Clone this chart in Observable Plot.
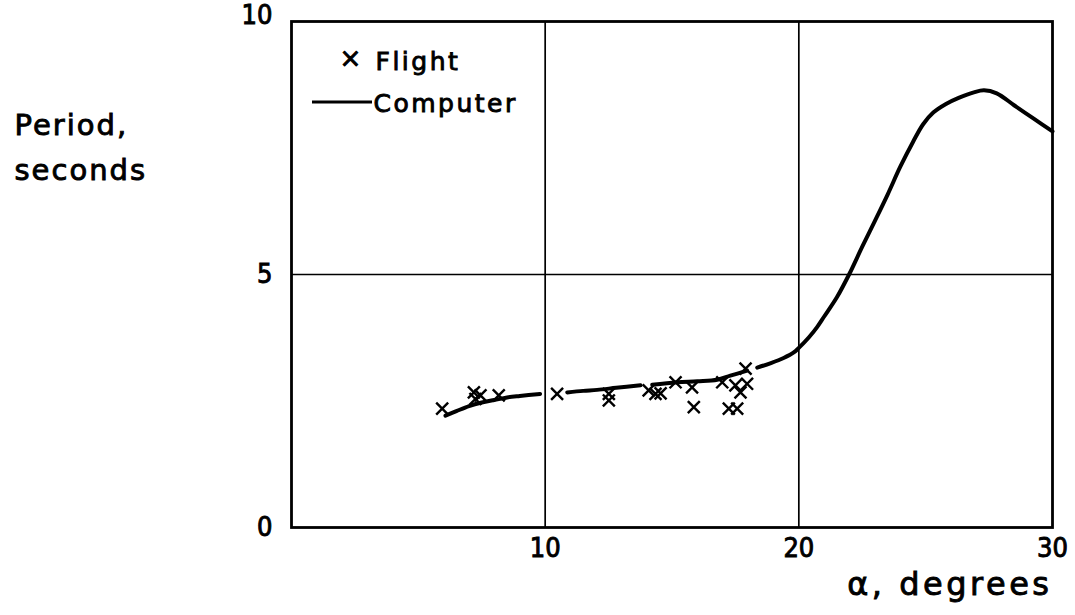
<!DOCTYPE html>
<html>
<head>
<meta charset="utf-8">
<script src="https://cdn.jsdelivr.net/npm/d3@7"></script>
<script src="https://cdn.jsdelivr.net/npm/@observablehq/plot@0.6"></script>
<style>
  html, body { margin: 0; padding: 0; background: #fff; }
  #chart svg { display: block; }
</style>
</head>
<body>
<div id="chart"></div>
<script>
// Computer curve (alpha in degrees, period in seconds); null marks a gap in the drawn line
const computerAlpha = [6.07, 6.5, 7.0, 7.5, 8.0, 8.5, 9.0, 9.8, 10.3,
  10.87, 11.5, 12.05, 12.8, 13.76, 14.0,
  14.22, 15.2, 16.0, 16.78, 17.3, 17.96, 18.15,
  18.36, 18.9, 19.4, 19.8, 20.0, 20.4, 20.72, 21.0, 21.5, 22.0, 22.5, 23.0, 23.5,
  24.0, 24.5, 24.9, 25.3, 25.8, 26.3, 26.9, 27.3, 27.8, 28.5, 29.26, 30.0];
const computerPeriod = [2.21, 2.30, 2.40, 2.47, 2.52, 2.57, 2.60, 2.64, null,
  2.67, 2.70, 2.72, 2.76, 2.81, null,
  2.82, 2.87, 2.89, 2.92, 3.00, 3.10, null,
  3.16, 3.25, 3.35, 3.46, 3.55, 3.76, 3.96, 4.17, 4.55, 5.02, 5.55, 6.06, 6.58,
  7.13, 7.62, 7.97, 8.20, 8.37, 8.49, 8.60, 8.64, 8.58, 8.34, 8.08, 7.83];

// Flight test points
const flightAlpha = [5.94, 7.19, 7.25, 7.45, 8.17, 10.47, 12.51, 12.51, 14.08, 14.35, 14.55,
  15.14, 15.79, 15.86, 16.98, 17.24, 17.5, 17.57, 17.7, 17.9, 17.96];
const flightPeriod = [2.35, 2.67, 2.54, 2.61, 2.61, 2.64, 2.64, 2.51, 2.71, 2.64, 2.65,
  2.87, 2.77, 2.38, 2.87, 2.35, 2.81, 2.35, 2.67, 3.14, 2.84];

const xTicks = [10, 20, 30];
const yTicksLow = [0, 5];
const yTicksHigh = [10];

const legendFlight = "Flight";
const legendComputer = "Computer";
const yLabel = "Period,\nseconds";
const xLabel = "α, degrees";

const computer = computerAlpha.map((a, i) => ({alpha: a, period: computerPeriod[i]}));
const flight = flightAlpha.map((a, i) => ({alpha: a, period: flightPeriod[i]}));

const font = "'DejaVu Sans', sans-serif";
const tickFont = "'DejaVu Sans Condensed', 'DejaVu Sans', sans-serif";

// legend line drawn relative to the frame
function legendLine(index, scales, values, dimensions) {
  const g = d3.create("svg:g");
  const x0 = dimensions.marginLeft + 21;
  const y0 = dimensions.marginTop + 81;
  g.append("line")
    .attr("x1", x0).attr("x2", x0 + 60)
    .attr("y1", y0).attr("y2", y0)
    .attr("stroke", "black").attr("stroke-width", 2.8);
  return g.node();
}

const fmt = d => String(d);

const chart = Plot.plot({
  width: 1075,
  height: 615,
  marginLeft: 291,
  marginRight: 23,
  marginTop: 21,
  marginBottom: 88,
  x: {domain: [0, 30]},
  y: {domain: [0, 10]},
  style: {fontFamily: font, background: "#fff", color: "black", overflow: "visible"},
  marks: [
    Plot.gridX(xTicks.slice(0, 2), {stroke: "black", strokeOpacity: 1, strokeWidth: 1.7}),
    Plot.gridY([5], {stroke: "black", strokeOpacity: 1, strokeWidth: 1.7}),
    Plot.frame({stroke: "black", strokeWidth: 2.8}),
    Plot.axisX(xTicks, {tickSize: 0, tickPadding: 10, tickFormat: fmt, label: null}),
    Plot.axisY(yTicksLow, {tickSize: 0, tickPadding: 19, tickFormat: fmt, label: null}),
    Plot.axisY(yTicksHigh, {tickSize: 0, tickPadding: 19, tickFormat: fmt, label: null, dy: -6}),
    Plot.line(computer, {x: "alpha", y: "period", stroke: "black", strokeWidth: 4, curve: "catmull-rom"}),
    Plot.dot(flight, {x: "alpha", y: "period", symbol: "times", r: 5.5, stroke: "black", strokeWidth: 2.4}),
    // legend
    Plot.text(["×"], {frameAnchor: "top-left", dx: 59, dy: 37, fontSize: 26, textAnchor: "middle", lineAnchor: "middle"}),
    Plot.text([legendFlight], {frameAnchor: "top-left", dx: 84, dy: 40, fontSize: 25, textAnchor: "start", lineAnchor: "middle"}),
    legendLine,
    Plot.text([legendComputer], {frameAnchor: "top-left", dx: 82, dy: 82, fontSize: 25, textAnchor: "start", lineAnchor: "middle"}),
    // axis titles
    Plot.text([yLabel], {frameAnchor: "top-left", dx: -277, dy: 82, fontSize: 29, textAnchor: "start", lineAnchor: "top", lineHeight: 1.55}),
    Plot.text([xLabel], {frameAnchor: "bottom-right", dx: 0, dy: 57, fontSize: 32, textAnchor: "end", lineAnchor: "middle"})
  ]
});

const svg = d3.select(chart);
// tick labels: larger, narrow lettering
svg.selectAll('g[aria-label$="tick label"]').each(function() {
  d3.select(this).style("font-size", "27px").style("font-family", tickFont);
  d3.select(this).selectAll("text").style("font-size", "27px").style("font-family", tickFont);
});
// hand-lettered look: widen letter spacing of the label texts
svg.selectAll('g[aria-label="text"] text').each(function() {
  const s = this.textContent;
  let ls = 2.5;
  if (s.startsWith("α")) ls = 3.5;
  else if (s.startsWith("Period") || s.startsWith("seconds")) ls = 2;
  else if (s === "×") ls = 0;
  d3.select(this).attr("letter-spacing", ls);
});
// heavier pen strokes on all lettering
svg.selectAll("text")
  .attr("stroke", "black")
  .attr("stroke-width", 0.9);

document.getElementById("chart").appendChild(chart);
</script>
</body>
</html>
